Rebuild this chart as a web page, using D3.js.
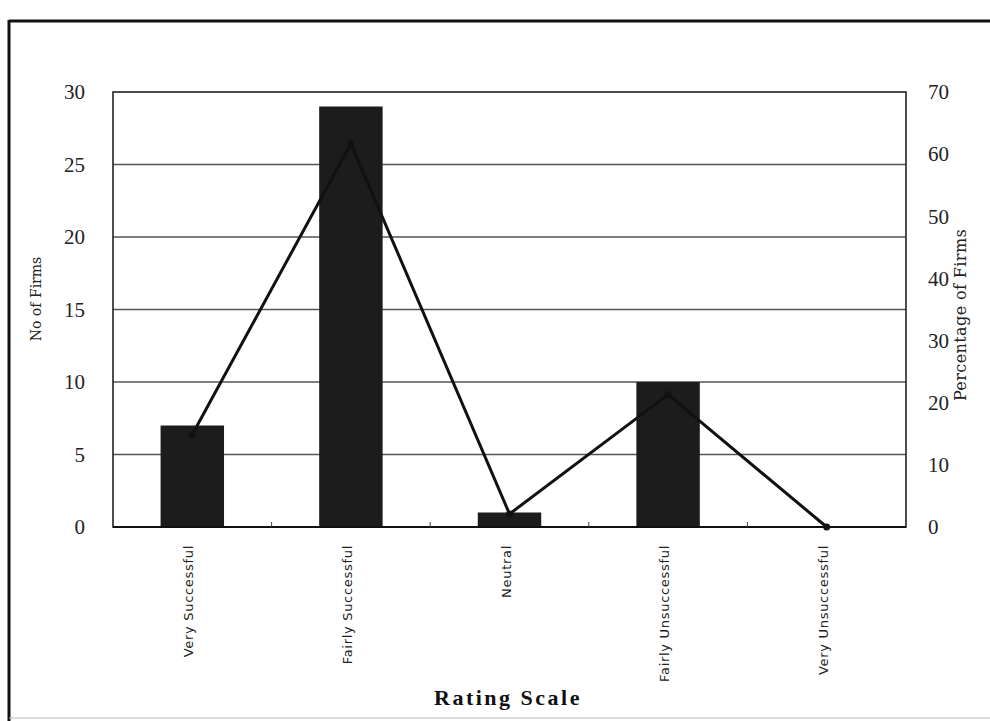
<!DOCTYPE html>
<html>
<head>
<meta charset="utf-8">
<script src="https://cdn.jsdelivr.net/npm/d3@7"></script>
<style>
  html, body { margin: 0; padding: 0; background: #fff; }
  svg { display: block; }
</style>
</head>
<body>
<svg id="chart" width="990" height="721"></svg>
<script>
// Survey results: firms by rating, with percentage line on secondary axis
const categories = ["Very Successful", "Fairly Successful", "Neutral", "Fairly Unsuccessful", "Very Unsuccessful"];
const firmCounts = [7, 29, 1, 10, 0];
const firmPercent = [14.9, 61.7, 2.1, 21.3, 0];
const leftTicks = [0, 5, 10, 15, 20, 25, 30];
const rightTicks = [0, 10, 20, 30, 40, 50, 60, 70];

const svg = d3.select("#chart");
const plot = { left: 113, right: 906, top: 92, bottom: 527 };

// outer frame
svg.append("line").attr("x1", 9).attr("x2", 990).attr("y1", 21).attr("y2", 21)
  .attr("stroke", "#111").attr("stroke-width", 3);
svg.append("line").attr("x1", 9).attr("x2", 9).attr("y1", 20).attr("y2", 721)
  .attr("stroke", "#111").attr("stroke-width", 3);
svg.append("line").attr("x1", 9).attr("x2", 990).attr("y1", 718).attr("y2", 718)
  .attr("stroke", "#bbb").attr("stroke-width", 1);

const x = d3.scaleBand().domain(categories)
  .range([plot.left, plot.right]).paddingInner(0.6).paddingOuter(0.3);
const yL = d3.scaleLinear().domain([0, 30]).range([plot.bottom, plot.top]);
const yR = d3.scaleLinear().domain([0, 70]).range([plot.bottom, plot.top]);

// horizontal gridlines
svg.append("g").selectAll("line")
  .data(leftTicks.filter(t => t > 0 && t < 30))
  .join("line")
  .attr("x1", plot.left).attr("x2", plot.right)
  .attr("y1", d => yL(d)).attr("y2", d => yL(d))
  .attr("stroke", "#555").attr("stroke-width", 1.3);

// plot frame
svg.append("rect")
  .attr("x", plot.left).attr("y", plot.top)
  .attr("width", plot.right - plot.left).attr("height", plot.bottom - plot.top)
  .attr("fill", "none").attr("stroke", "#222").attr("stroke-width", 1.6);

// bars
svg.append("g").selectAll("rect")
  .data(categories)
  .join("rect")
  .attr("x", d => x(d))
  .attr("width", x.bandwidth())
  .attr("y", (d, i) => yL(firmCounts[i]))
  .attr("height", (d, i) => yL(0) - yL(firmCounts[i]))
  .attr("fill", "#1c1c1c");

// category axis
const xAxis = svg.append("g").attr("transform", `translate(0,${plot.bottom})`);
xAxis.append("line").attr("x1", plot.left).attr("x2", plot.right)
  .attr("stroke", "#111").attr("stroke-width", 2.2);
xAxis.selectAll("line.tick")
  .data(categories.slice(1))
  .join("line").attr("class", "tick")
  .attr("x1", d => x(d) - x.step() * x.paddingInner() / 2)
  .attr("x2", d => x(d) - x.step() * x.paddingInner() / 2)
  .attr("y1", 0).attr("y2", -5)
  .attr("stroke", "#444").attr("stroke-width", 1);
xAxis.selectAll("text")
  .data(categories)
  .join("text")
  .attr("transform", d => `translate(${x(d) + x.bandwidth() / 2 + 1},18) rotate(-90)`)
  .attr("text-anchor", "end")
  .attr("font-family", "'DejaVu Sans', Verdana, sans-serif")
  .attr("font-size", 13)
  .attr("letter-spacing", 0.7)
  .attr("fill", "#222")
  .text(d => d);

// percentage line
const line = d3.line()
  .x((d, i) => x(categories[i]) + x.bandwidth() / 2)
  .y(d => yR(d));
svg.append("path")
  .datum(firmPercent)
  .attr("d", line)
  .attr("fill", "none")
  .attr("stroke", "#111")
  .attr("stroke-width", 3)
  .attr("stroke-linejoin", "round");
svg.append("g").selectAll("circle")
  .data(firmPercent)
  .join("circle")
  .attr("cx", (d, i) => x(categories[i]) + x.bandwidth() / 2)
  .attr("cy", d => yR(d))
  .attr("r", 3.5)
  .attr("fill", "#111");

// left axis labels
svg.append("g").selectAll("text")
  .data(leftTicks)
  .join("text")
  .attr("x", 85).attr("y", d => yL(d))
  .attr("dy", "0.35em")
  .attr("text-anchor", "end")
  .attr("font-family", "'Liberation Serif', 'Times New Roman', serif")
  .attr("font-size", 21)
  .attr("fill", "#222")
  .text(d => d);

// right axis labels
svg.append("g").selectAll("text")
  .data(rightTicks)
  .join("text")
  .attr("x", 928).attr("y", d => yR(d))
  .attr("dy", "0.35em")
  .attr("text-anchor", "start")
  .attr("font-family", "'Liberation Serif', 'Times New Roman', serif")
  .attr("font-size", 21)
  .attr("fill", "#222")
  .text(d => d);

// axis titles
svg.append("text")
  .attr("transform", "translate(41,299) rotate(-90)")
  .attr("text-anchor", "middle")
  .attr("font-family", "'DejaVu Serif', Georgia, serif")
  .attr("font-size", 14)
  .attr("fill", "#222")
  .text("No of Firms");
svg.append("text")
  .attr("transform", "translate(966,315) rotate(-90)")
  .attr("text-anchor", "middle")
  .attr("font-family", "'DejaVu Serif', Georgia, serif")
  .attr("font-size", 16)
  .attr("letter-spacing", 0.4)
  .attr("fill", "#222")
  .text("Percentage of Firms");
svg.append("text")
  .attr("x", 508).attr("y", 705)
  .attr("text-anchor", "middle")
  .attr("font-family", "'Liberation Serif', 'Times New Roman', serif")
  .attr("font-size", 22)
  .attr("font-weight", "bold")
  .attr("letter-spacing", 2.5)
  .attr("fill", "#111")
  .text("Rating Scale");
</script>
</body>
</html>
